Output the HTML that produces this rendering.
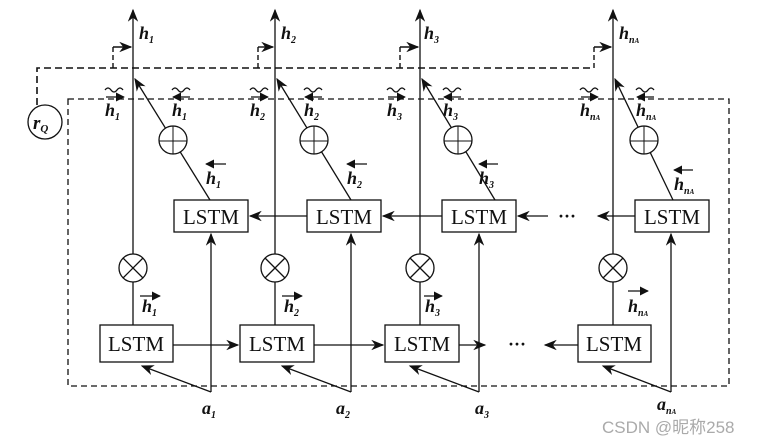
<!DOCTYPE html>
<html><head><meta charset="utf-8"><style>
html,body{margin:0;padding:0;background:#fff;}
svg{display:block;}
text{font-family:"Liberation Serif",serif;fill:#111;}
.i{font-style:italic;font-weight:bold;}
</style></head><body>
<svg width="765" height="446" viewBox="0 0 765 446" xmlns="http://www.w3.org/2000/svg">
<defs>
<marker id="a" viewBox="0 0 10 10" refX="9" refY="5" markerWidth="9" markerHeight="9" markerUnits="userSpaceOnUse" orient="auto"><path d="M0,0L10,5L0,10z" fill="#111"/></marker>
<marker id="b" viewBox="0 0 10 10" refX="9" refY="5" markerWidth="13" markerHeight="13" markerUnits="userSpaceOnUse" orient="auto"><path d="M0,1L10,5L0,9L3,5z" fill="#111"/></marker>
</defs>
<g stroke="#111" fill="none" stroke-width="1.3">
<rect x="68" y="99" width="661" height="287" stroke-dasharray="6,4"/>
<path d="M37,105V68H594" stroke-dasharray="7,4" stroke-width="1.6"/>
<path d="M113,68V47M258,68V47M400,68V47M594,68V47" stroke-dasharray="5,3" stroke-width="1.4"/>
<path d="M113,47H131" stroke-width="1.4" marker-end="url(#b)"/>
<path d="M258,47H273" stroke-width="1.4" marker-end="url(#b)"/>
<path d="M400,47H418" stroke-width="1.4" marker-end="url(#b)"/>
<path d="M594,47H611" stroke-width="1.4" marker-end="url(#b)"/>
<circle cx="45" cy="122" r="17"/>
<path d="M133,325V10" marker-end="url(#b)"/>
<path d="M275,325V10" marker-end="url(#b)"/>
<path d="M420,325V10" marker-end="url(#b)"/>
<path d="M613,325V10" marker-end="url(#b)"/>
<g fill="#fff">
<circle cx="133" cy="268" r="14"/><circle cx="275" cy="268" r="14"/><circle cx="420" cy="268" r="14"/><circle cx="613" cy="268" r="14"/>
</g>
<path d="M123,258L143,278M143,258L123,278M265,258L285,278M285,258L265,278M410,258L430,278M430,258L410,278M603,258L623,278M623,258L603,278"/>
<path d="M210,200L135,79" marker-end="url(#b)"/>
<path d="M351,200L277,79" marker-end="url(#b)"/>
<path d="M495,200L422,79" marker-end="url(#b)"/>
<path d="M673,200L615,79" marker-end="url(#b)"/>
<g fill="#fff">
<circle cx="173" cy="140" r="14"/><circle cx="314" cy="140" r="14"/><circle cx="458" cy="140" r="14"/><circle cx="644" cy="140" r="14"/>
</g>
<path d="M159,141H187M173,126V154M300,141H328M314,126V154M444,141H472M458,126V154M630,141H658M644,126V154" stroke-width="1"/>
<g fill="#fff">
<rect x="174" y="200" width="74" height="32"/>
<rect x="307" y="200" width="74" height="32"/>
<rect x="442" y="200" width="74" height="32"/>
<rect x="635" y="200" width="74" height="32"/>
<rect x="100" y="325" width="73" height="37"/>
<rect x="240" y="325" width="74" height="37"/>
<rect x="385" y="325" width="74" height="37"/>
<rect x="578" y="325" width="73" height="37"/>
</g>
<path d="M307,216H250" marker-end="url(#b)"/>
<path d="M442,216H383" marker-end="url(#b)"/>
<path d="M548,216H518" marker-end="url(#b)"/>
<path d="M635,216H598" marker-end="url(#b)"/>
<path d="M173,345H238" marker-end="url(#b)"/>
<path d="M314,345H383" marker-end="url(#b)"/>
<path d="M459,345H485" marker-end="url(#b)"/>
<path d="M578,345H545" marker-end="url(#b)"/>
<path d="M211,392V234" marker-end="url(#b)"/>
<path d="M351,392V234" marker-end="url(#b)"/>
<path d="M479,392V234" marker-end="url(#b)"/>
<path d="M671,392V234" marker-end="url(#b)"/>
<path d="M211,392L142,366" marker-end="url(#b)"/>
<path d="M351,392L282,366" marker-end="url(#b)"/>
<path d="M479,392L410,366" marker-end="url(#b)"/>
<path d="M671,392L603,366" marker-end="url(#b)"/>
</g>
<g font-size="21" text-anchor="middle">
<text x="211" y="224">LSTM</text><text x="344" y="224">LSTM</text><text x="479" y="224">LSTM</text><text x="672" y="224">LSTM</text>
<text x="136" y="351">LSTM</text><text x="277" y="351">LSTM</text><text x="422" y="351">LSTM</text><text x="614" y="351">LSTM</text>
</g>
<g font-size="18" font-weight="bold">
<text x="558" y="222">···</text><text x="508" y="350">···</text>
</g>
<text x="33" y="129" class="i" font-size="19">r<tspan font-size="11" dy="3">Q</tspan></text>
<g font-size="18" class="i">
<text x="139" y="39">h<tspan font-size="10" dy="4">1</tspan></text>
<text x="281" y="39">h<tspan font-size="10" dy="4">2</tspan></text>
<text x="424" y="39">h<tspan font-size="10" dy="4">3</tspan></text>
<text x="619" y="39">h<tspan font-size="10" dy="4">n<tspan font-size="7">A</tspan></tspan></text>
<text x="105" y="116">h<tspan font-size="10" dy="4">1</tspan></text>
<text x="172" y="116">h<tspan font-size="10" dy="4">1</tspan></text>
<text x="250" y="116">h<tspan font-size="10" dy="4">2</tspan></text>
<text x="304" y="116">h<tspan font-size="10" dy="4">2</tspan></text>
<text x="387" y="116">h<tspan font-size="10" dy="4">3</tspan></text>
<text x="443" y="116">h<tspan font-size="10" dy="4">3</tspan></text>
<text x="580" y="116">h<tspan font-size="10" dy="4">n<tspan font-size="7">A</tspan></tspan></text>
<text x="636" y="116">h<tspan font-size="10" dy="4">n<tspan font-size="7">A</tspan></tspan></text>
<text x="206" y="184">h<tspan font-size="10" dy="4">1</tspan></text>
<text x="347" y="184">h<tspan font-size="10" dy="4">2</tspan></text>
<text x="479" y="184">h<tspan font-size="10" dy="4">3</tspan></text>
<text x="674" y="190">h<tspan font-size="10" dy="4">n<tspan font-size="7">A</tspan></tspan></text>
<text x="142" y="312">h<tspan font-size="10" dy="4">1</tspan></text>
<text x="284" y="312">h<tspan font-size="10" dy="4">2</tspan></text>
<text x="425" y="312">h<tspan font-size="10" dy="4">3</tspan></text>
<text x="628" y="312">h<tspan font-size="10" dy="4">n<tspan font-size="7">A</tspan></tspan></text>
<text x="202" y="414">a<tspan font-size="10" dy="4">1</tspan></text>
<text x="336" y="414">a<tspan font-size="10" dy="4">2</tspan></text>
<text x="475" y="414">a<tspan font-size="10" dy="4">3</tspan></text>
<text x="657" y="410">a<tspan font-size="10" dy="4">n<tspan font-size="7">A</tspan></tspan></text>
</g>
<g stroke="#111" stroke-width="1.3" fill="none">
<path d="M105,90q3,-4 6,0t6,0t6,0M172,90q3,-4 6,0t6,0t6,0M250,90q3,-4 6,0t6,0t6,0M304,90q3,-4 6,0t6,0t6,0M387,90q3,-4 6,0t6,0t6,0M443,90q3,-4 6,0t6,0t6,0M580,90q3,-4 6,0t6,0t6,0M636,90q3,-4 6,0t6,0t6,0"/>
<path d="M106,97H124" marker-end="url(#a)"/>
<path d="M251,97H268" marker-end="url(#a)"/>
<path d="M388,97H405" marker-end="url(#a)"/>
<path d="M581,97H598" marker-end="url(#a)"/>
<path d="M140,296H160" marker-end="url(#a)"/>
<path d="M282,296H302" marker-end="url(#a)"/>
<path d="M424,296H442" marker-end="url(#a)"/>
<path d="M628,291H648" marker-end="url(#a)"/>
<path d="M190,97H173" marker-end="url(#a)"/>
<path d="M322,97H305" marker-end="url(#a)"/>
<path d="M461,97H444" marker-end="url(#a)"/>
<path d="M654,97H637" marker-end="url(#a)"/>
<path d="M226,164H206" marker-end="url(#a)"/>
<path d="M367,164H347" marker-end="url(#a)"/>
<path d="M498,164H479" marker-end="url(#a)"/>
<path d="M693,170H674" marker-end="url(#a)"/>
</g>
<text x="602" y="433" font-family="Liberation Sans, Noto Sans CJK SC, sans-serif" font-size="17" style="fill:#aaa;font-family:'Liberation Sans','Noto Sans CJK SC',sans-serif">CSDN @昵称258</text>
</svg>
</body></html>
